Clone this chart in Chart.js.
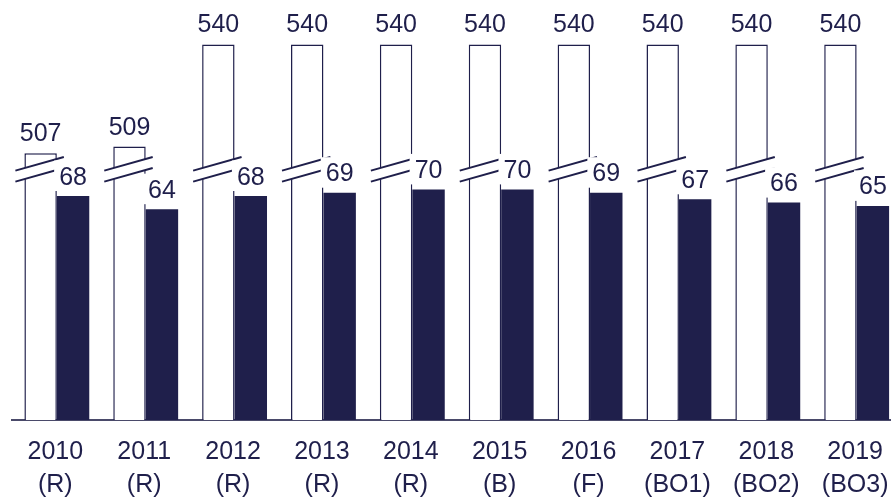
<!DOCTYPE html>
<html>
<head>
<meta charset="utf-8">
<script src="https://cdn.jsdelivr.net/npm/chart.js@4"></script>
<style>
  body { margin: 0; overflow: hidden; background: #fff; }
  #wrap { position: absolute; left: 0; top: 0; width: 905px; height: 499px; }
</style>
</head>
<body>
<div id="wrap"><canvas id="grafico"></canvas></div>
<script>
// datos
const years = ['2010', '2011', '2012', '2013', '2014', '2015', '2016', '2017', '2018', '2019'];
const versions = ['(R)', '(R)', '(R)', '(R)', '(R)', '(B)', '(F)', '(BO1)', '(BO2)', '(BO3)'];
const totalValues = [507, 509, 540, 540, 540, 540, 540, 540, 540, 540];
const shareValues = [68, 64, 68, 69, 70, 70, 69, 67, 66, 65];

const navy = '#1f1f4b';
const fontFamily = '"Liberation Sans", Arial, sans-serif';

// corte del eje en las barras blancas + etiquetas
const cortesYEtiquetas = {
  id: 'cortesYEtiquetas',
  afterDatasetsDraw(chart) {
    const ctx = chart.ctx;
    const yScale = chart.scales.y;
    const yBreak = yScale.getPixelForValue(75.7);
    const slope = -0.28;
    const gap = 11;

    const metaTotal = chart.getDatasetMeta(0);
    const metaShare = chart.getDatasetMeta(1);

    ctx.save();
    // cortes
    metaTotal.data.forEach(bar => {
      const left = bar.x - bar.width / 2;
      const right = bar.x + bar.width / 2;
      const x0 = left - 9, x1 = right + 7;
      const y0 = yBreak, y1 = yBreak + slope * (x1 - x0);
      ctx.fillStyle = '#fff';
      ctx.beginPath();
      ctx.moveTo(x0, y0);
      ctx.lineTo(x1, y1);
      ctx.lineTo(x1, y1 + gap);
      ctx.lineTo(x0, y0 + gap);
      ctx.closePath();
      ctx.fill();
      ctx.strokeStyle = navy;
      ctx.lineWidth = 2;
      ctx.beginPath();
      ctx.moveTo(x0, y0);
      ctx.lineTo(x1, y1);
      ctx.moveTo(x0, y0 + gap);
      ctx.lineTo(x1, y1 + gap);
      ctx.stroke();
    });

    ctx.font = '25px ' + fontFamily;
    ctx.textAlign = 'center';
    ctx.textBaseline = 'alphabetic';

    metaTotal.data.forEach((bar, i) => {
      ctx.fillStyle = navy;
      ctx.fillText(String(totalValues[i]), bar.x, bar.y - 12);
    });

    metaShare.data.forEach((bar, i) => {
      const txt = String(shareValues[i]);
      const w = ctx.measureText(txt).width;
      const base = bar.y - 11.5;
      ctx.fillStyle = '#fff';
      ctx.fillRect(bar.x - w / 2 - 5, base - 24, w + 8, bar.y - 5 - (base - 24));
      ctx.fillStyle = navy;
      ctx.fillText(txt, bar.x, base);
    });
    ctx.restore();
  }
};

const etiquetas = years.map((y, i) => [y, versions[i]]);

new Chart(document.getElementById('grafico'), {
  type: 'bar',
  data: {
    labels: etiquetas,
    datasets: [{
      data: totalValues,
      yAxisID: 'y2',
      backgroundColor: '#ffffff',
      borderColor: navy,
      borderWidth: 1.5
    }, {
      data: shareValues,
      yAxisID: 'y',
      backgroundColor: navy,
      borderWidth: 0
    }]
  },
  options: {
    responsive: true,
    maintainAspectRatio: false,
    animation: false,
    layout: { padding: { left: 12.4, right: 0, top: 0, bottom: 0 } },
    datasets: { bar: { categoryPercentage: 0.73, barPercentage: 1 } },
    plugins: { legend: { display: false }, tooltip: { enabled: false } },
    scales: {
      x: {
        grid: { display: false, drawTicks: false },
        border: { display: true, color: '#4a4a6a', width: 2 },
        ticks: {
          color: navy,
          padding: 15,
          labelOffset: -1.5,
          maxRotation: 0,
          autoSkip: false,
          font: { size: 25, family: fontFamily, lineHeight: 1.33 }
        },
        afterFit(scale) { scale.height = 79; }
      },
      y: { display: false, min: 0, max: 127.5 },
      y2: { display: false, min: 426, max: 553.5 }
    }
  },
  plugins: [cortesYEtiquetas]
});
</script>
</body>
</html>
